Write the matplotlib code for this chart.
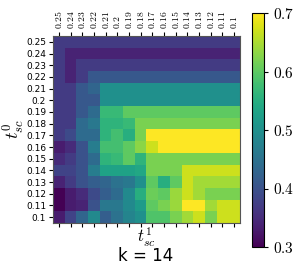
import numpy as np
import matplotlib
matplotlib.use('Agg')
import matplotlib.pyplot as plt

plt.rcParams['mathtext.fontset'] = 'cm'

# thresholds (top row = 0.25, left column = 0.25)
t0_labels = ['0.25', '0.24', '0.23', '0.22', '0.21', '0.2', '0.19', '0.18',
             '0.17', '0.16', '0.15', '0.14', '0.13', '0.12', '0.11', '0.1']
t1_labels = list(t0_labels)

# heatmap values, rows = t0 (0.25 -> 0.1), cols = t1 (0.25 -> 0.1)
row_025 = [0.37] * 16
row_024 = [0.37] + [0.34] * 15
row_023 = [0.37, 0.34] + [0.37] * 14
row_022 = [0.37, 0.34, 0.37] + [0.41] * 13
row_021 = [0.37, 0.37, 0.41, 0.43] + [0.50] * 12
row_020 = [0.37, 0.37, 0.41, 0.41] + [0.50] * 12
row_019 = [0.37, 0.37, 0.41, 0.44, 0.57, 0.57] + [0.60] * 10
row_018 = [0.37, 0.37, 0.44, 0.46, 0.56, 0.56, 0.57] + [0.62] * 9
row_017 = [0.37, 0.39, 0.44, 0.44, 0.56, 0.58, 0.55, 0.62] + [0.70] * 8
row_016 = [0.33, 0.35, 0.40, 0.47, 0.58, 0.58, 0.60, 0.63, 0.67] + [0.70] * 7
row_015 = [0.35, 0.37, 0.40, 0.44, 0.56, 0.57, 0.60, 0.56] + [0.62] * 8
row_014 = [0.38, 0.38, 0.40, 0.47, 0.53, 0.53, 0.53, 0.54, 0.62, 0.62, 0.62] + [0.67] * 5
row_013 = [0.34, 0.37, 0.40, 0.42, 0.43, 0.45, 0.46, 0.50, 0.60, 0.55, 0.60, 0.67] + [0.645] * 4
row_012 = [0.30, 0.33, 0.35, 0.39, 0.42, 0.44, 0.49, 0.55, 0.61, 0.60, 0.64, 0.67, 0.645, 0.62, 0.62, 0.62]
row_011 = [0.30, 0.33, 0.34, 0.40, 0.46, 0.46, 0.49, 0.52, 0.60, 0.62, 0.64, 0.70, 0.70, 0.645, 0.67, 0.67]
row_010 = [0.33, 0.38, 0.43, 0.49, 0.42, 0.45, 0.48, 0.50, 0.59, 0.59, 0.62, 0.645, 0.67, 0.62, 0.67, 0.67]

values = np.array([row_025, row_024, row_023, row_022, row_021, row_020, row_019, row_018,
                   row_017, row_016, row_015, row_014, row_013, row_012, row_011, row_010])

fig = plt.figure(figsize=(2.99, 2.75), dpi=100)
ax = fig.add_axes([53 / 299, 52 / 275, 187 / 299, 187 / 275])
cax = fig.add_axes([252 / 299, 28 / 275, 12 / 299, 234 / 275])

im = ax.imshow(values, cmap='viridis', vmin=0.3, vmax=0.7, aspect='auto')

ax.set_xticks(range(len(t1_labels)))
ax.set_xticklabels(['$' + s + '$' for s in t1_labels], rotation=90, fontsize=7)
ax.set_yticks(range(len(t0_labels)))
ax.set_yticklabels(t0_labels, fontsize=6.5)
ax.tick_params(axis='x', top=True, labeltop=True, bottom=True, labelbottom=False,
               length=3, width=0.8, pad=2)
ax.tick_params(axis='y', length=3, width=0.8, pad=2)
for sp in ax.spines.values():
    sp.set_color('#555555')

ax.set_xlabel('$t_{sc}^1$', fontsize=12, labelpad=-1)
ax.set_ylabel('$t_{sc}^0$', fontsize=13, labelpad=-1)
# title sits below the x label
fig.text(146 / 299, 19 / 275, 'k = 14', ha='center', va='center', fontsize=12)

cb = fig.colorbar(im, cax=cax)
cb.set_ticks([0.3, 0.4, 0.5, 0.6, 0.7])
cb.set_ticklabels(['$0.3$', '$0.4$', '$0.5$', '$0.6$', '$0.7$'])
cb.ax.tick_params(labelsize=11, length=3, width=0.8)
cb.outline.set_linewidth(0.8)

fig.savefig('out.png', dpi=100)
